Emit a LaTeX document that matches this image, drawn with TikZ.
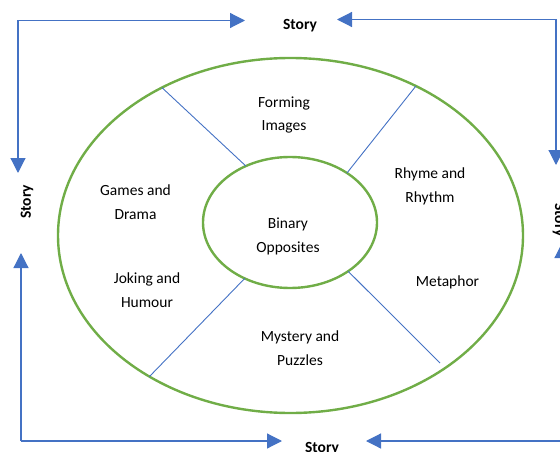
\documentclass[tikz,border=0pt]{standalone}
\usepackage{fontspec}
\setmainfont{Carlito}
\usepackage{xcolor}
\usepackage{tikz}
\usetikzlibrary{arrows.meta,positioning,shapes.geometric}

\definecolor{ringgreen}{RGB}{112,173,71}
\definecolor{lineblue}{RGB}{68,114,196}

\begin{document}
\begin{tikzpicture}[
      x=1pt, y=-1pt,
      ring/.style={draw=ringgreen, line width=2.4pt, ellipse, inner sep=0pt, outer sep=0pt},
      spoke/.style={draw=lineblue, line width=0.9pt},
      arr/.style={-{Triangle[length=15pt,width=15pt]}, draw=lineblue, line width=1.2pt},
      lbl/.style={font=\fontsize{15.5}{24}\selectfont, align=center, inner sep=0pt},
      story/.style={font=\fontsize{15.5}{18}\selectfont\bfseries, inner sep=0pt},
    ]
    \useasboundingbox (0,0) rectangle (560,452);
    \clip (0,0) rectangle (560,452);
    % the two rings
    \node[ring, minimum width=465pt, minimum height=355pt] (outer) at (290.5,235.5) {};
    \node[ring, minimum width=174pt, minimum height=131pt] (inner) at (290,222.5) {};
    \coordinate (lrEnd) at (440,363);
    \draw[spoke] (inner.128) -- (outer.131);
    \draw[spoke] (inner.41.5) -- (outer.50);
    \draw[spoke] (inner.231) -- (outer.225);
    \draw[spoke] (inner.320) -- (lrEnd);
    % labels
    \node[lbl] (binary) at (288,236) {Binary\\Opposites};
    \node[lbl] (forming) at (284,115) {Forming\\Images};
    \node[lbl] (rhyme) at (430,186) {Rhyme and\\Rhythm};
    \node[lbl] (games) at (135.5,202) {Games and\\Drama};
    \node[lbl] (joking) at (147,290) {Joking and\\Humour};
    \node[lbl] (metaphor) at (447.5,282) {Metaphor};
    \node[lbl] (mystery) at (300,348) {Mystery and\\Puzzles};
    % story round the outside
    \node[story] (stT) at (300,26) {Story};
    \node[story] (stB) at (322,449) {Story};
    \node[story, rotate=90] (stL) at (27,202) {Story};
    \node[story, rotate=-90] (stR) at (559,220) {Story};
    \coordinate (tl) at (18,20.5);
    \coordinate (tr) at (556,19.5);
    \coordinate (bl) at (21,441);
    \coordinate (br) at (562,441);
    \draw[arr, shorten >=55pt] (tl) -- (tl -| stT);
    \draw[arr, shorten >=37pt] (tr) -- (tr -| stT);
    \draw[arr, shorten >=40pt] (bl) -- (bl -| stB);
    \draw[arr, shorten >=44pt] (br) -- (br -| stB);
    \draw[arr, shorten >=29pt] (tl) -- (tl |- stL);
    \draw[arr, shorten >=51pt] (bl) -- (bl |- stL);
    \draw[arr, shorten >=55pt] (tr) -- (tr |- stR);
    \draw[arr, shorten >=23pt] (br) -- (br |- stR);
  \end{tikzpicture}
\end{document}
